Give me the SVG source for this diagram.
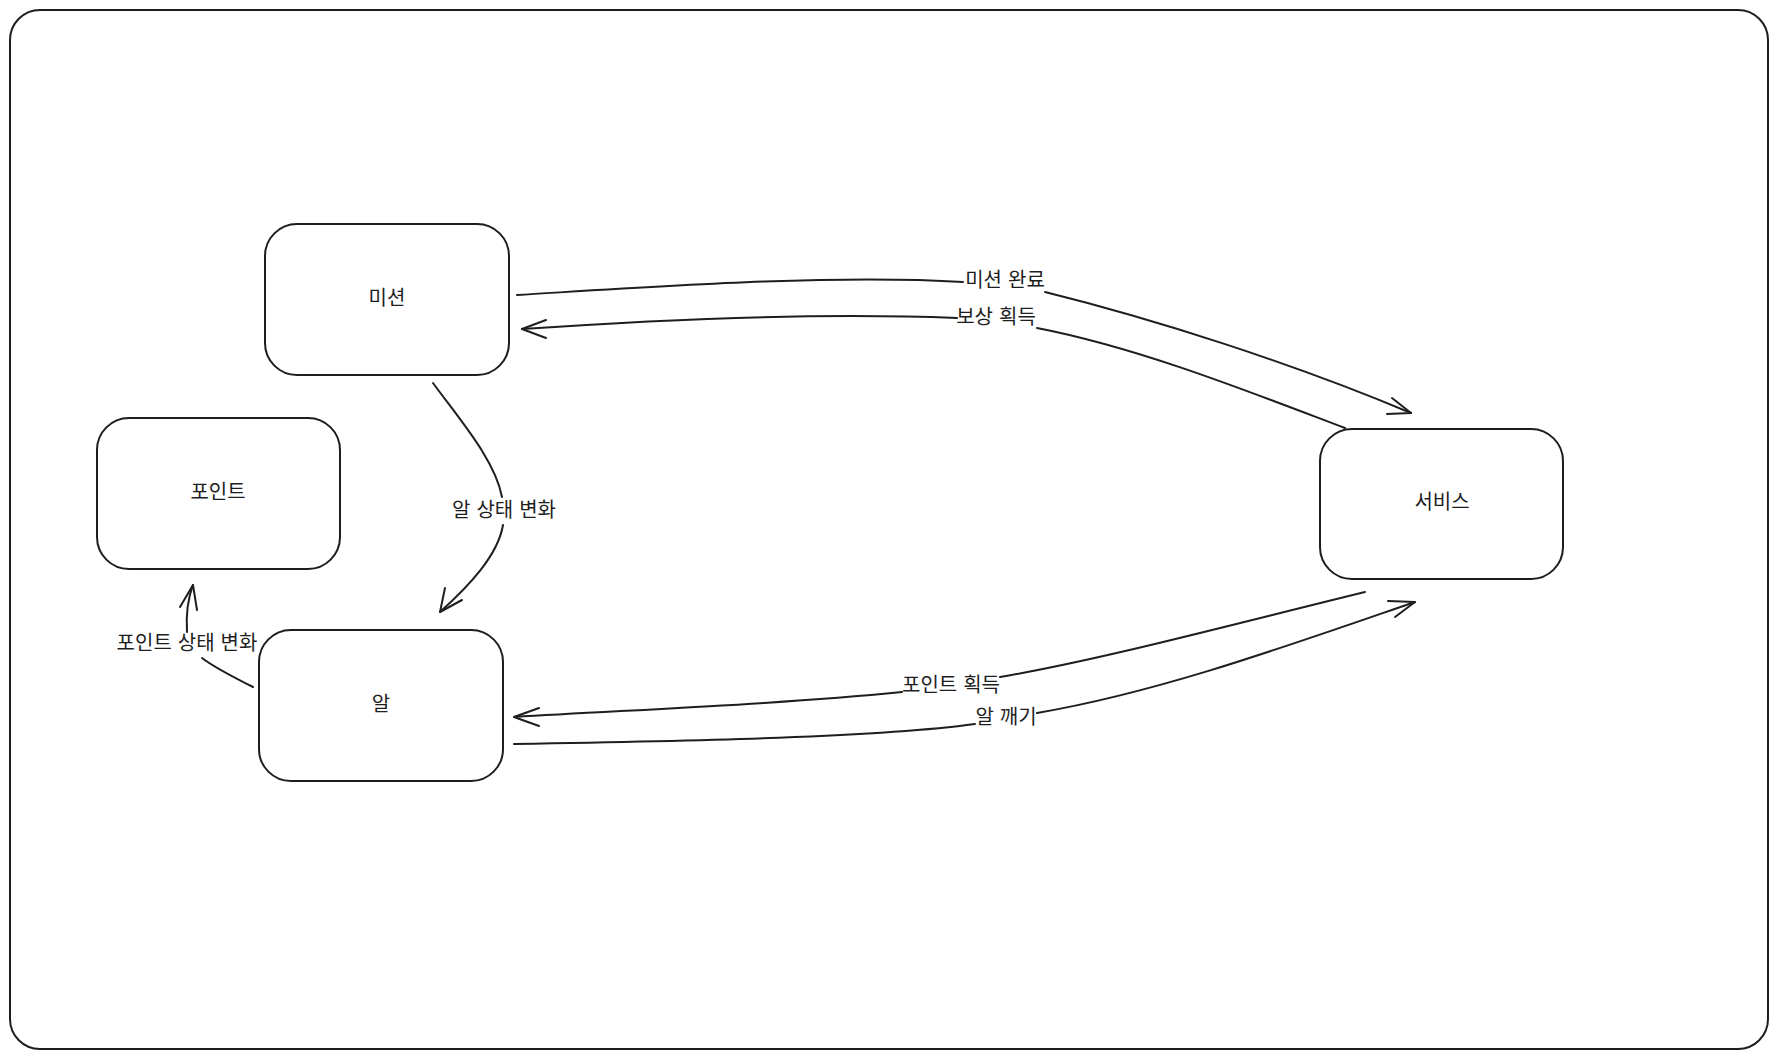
<svg xmlns="http://www.w3.org/2000/svg" width="1778" height="1059" viewBox="0 0 1778 1059">
<style>
.frame{fill:#ffffff;stroke:#1e1e1e;stroke-width:2}
.box{fill:#ffffff;stroke:#1e1e1e;stroke-width:2}
.line{fill:none;stroke:#1e1e1e;stroke-width:2;stroke-linecap:round;stroke-linejoin:round}
.t{font-family:"Noto Sans CJK KR","Noto Sans",sans-serif;font-size:20px;word-spacing:1.5px;fill:#1e1e1e;text-anchor:middle;dominant-baseline:central}
</style>
<rect class="frame" x="10" y="10" width="1758" height="1039" rx="30" ry="30"/>
<g id="node-mission"><rect class="box" x="265" y="224" width="244" height="151" rx="32" ry="32"/><text class="t" x="387" y="296">미션</text></g>
<g id="node-point"><rect class="box" x="97" y="418" width="243" height="151" rx="32" ry="32"/><text class="t" x="218" y="490">포인트</text></g>
<g id="node-egg"><rect class="box" x="259" y="630" width="244" height="151" rx="32" ry="32"/><text class="t" x="381" y="702">알</text></g>
<g id="node-service"><rect class="box" x="1320" y="429" width="243" height="150" rx="32" ry="32"/><text class="t" x="1442" y="500">서비스</text></g>
<g id="connectors">
<g id="edge-mission-complete">
<path class="line" d="M 517 295 C 650 287, 830 274, 963 282"/>
<path class="line" d="M 1045 292 C 1150 318, 1290 362, 1411 413"/>
<polyline class="line" points="1387,414 1411,413 1392,398"/>
<text class="t" x="1005" y="278">미션 완료</text>
</g>
<g id="edge-reward">
<path class="line" d="M 1345 428 C 1250 392, 1140 348, 1037 328"/>
<path class="line" d="M 957 318 C 830 313, 680 318, 522 329"/>
<polyline class="line" points="546,320 522,329 546,338"/>
<text class="t" x="996" y="315">보상 획득</text>
</g>
<g id="edge-egg-state">
<path class="line" d="M 433 383 C 460 420, 495 460, 502 497"/>
<path class="line" d="M 503 525 C 498 555, 470 585, 440 612"/>
<polyline class="line" points="445,588 440,612 462,600"/>
<text class="t" x="504" y="508">알 상태 변화</text>
</g>
<g id="edge-point-state">
<path class="line" d="M 253 687 C 235 678, 215 668, 202 658"/>
<path class="line" d="M 187 632 C 186 615, 188 598, 193 585"/>
<polyline class="line" points="180,607 193,585 197,610"/>
<text class="t" x="187" y="641">포인트 상태 변화</text>
</g>
<g id="edge-point-gain">
<path class="line" d="M 1365 592 C 1230 625, 1100 660, 1000 677"/>
<path class="line" d="M 902 692 C 780 704, 650 709, 514 717"/>
<polyline class="line" points="539,708 514,717 539,726"/>
<text class="t" x="951" y="683">포인트 획득</text>
</g>
<g id="edge-hatch">
<path class="line" d="M 514 744 C 700 741, 880 737, 975 724"/>
<path class="line" d="M 1037 713 C 1160 692, 1290 645, 1415 602"/>
<polyline class="line" points="1388,601 1415,602 1395,617"/>
<text class="t" x="1006" y="715">알 깨기</text>
</g>
</g>
</svg>
